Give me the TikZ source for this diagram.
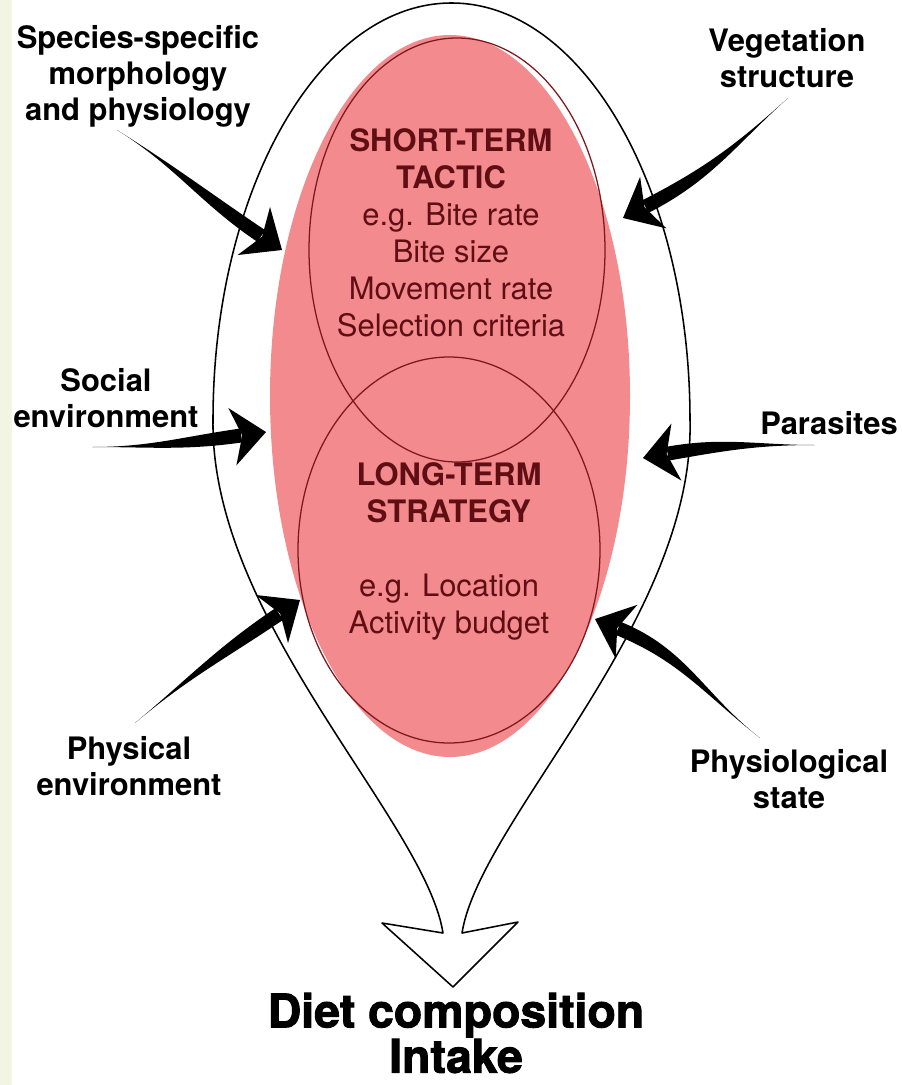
\documentclass[tikz,border=0pt]{standalone}
\usepackage{fontspec}
\setmainfont{TeX Gyre Heros}
\newfontfamily\heavyfont{TeX Gyre Heros}[BoldFeatures={FakeBold=2}]
\usetikzlibrary{calc}
\definecolor{tacticred}{RGB}{242,138,142}
\definecolor{innerline}{RGB}{125,25,30}
\definecolor{innertext}{RGB}{95,15,20}
\definecolor{edgestrip}{RGB}{243,245,228}

\begin{document}
\begin{tikzpicture}
    [   x = 0.25mm
    ,   y = 0.25mm
    ,   factor/.style =
        {   align = center
        ,   inner sep = 0mm
        ,   font = \fontsize{22}{25.6}\selectfont\bfseries
        }
    ,   inner/.style =
        {   align = center
        ,   inner sep = 0mm
        ,   text = innertext
        ,   font = \fontsize{22}{26.3}\selectfont
        }
    ,   wall/.style = {draw=innerline, line width=0.9pt}
    ]
    \useasboundingbox (0,0) rectangle (901,-1085);
    \fill[edgestrip] (0,0) rectangle (12,-1085);

    % funnel outline ending in the open arrow
    \draw[line width=1.1pt, line join=round]
        (443,-933) -- (382,-923) -- (453,-987) -- (518,-922) -- (462,-933)
        .. controls (480,-820) and (695,-620) .. (690,-420)
        arc[start angle=0, end angle=180, x radius=238.5, y radius=417]
        .. controls (210,-620) and (425,-820) .. (443,-933) -- cycle;

    \fill[tacticred] (450,-396) ellipse[x radius=180, y radius=361];
    \draw[wall] (457,-250) ellipse[x radius=148, y radius=212];
    \draw[wall] (449,-550) ellipse[x radius=151, y radius=193];

    \node[inner] (tactic) at (451,-233)
        {\textbf{SHORT-TERM}\\\textbf{TACTIC}\\e.g. Bite rate\\Bite size\\Movement rate\\Selection criteria};
    \node[inner] (strategy) at (449,-551)
        {\textbf{LONG-TERM}\\\textbf{STRATEGY}\\[26.3pt]e.g. Location\\Activity budget};

    \node[factor] (spec)   at (138,-76)  {Species-specific\\morphology\\and physiology};
    \node[factor] (veg)    at (787,-58)  {Vegetation\\structure};
    \node[factor] (social) at (106,-398) {Social\\environment};
    \node[factor] (para)   at (829,-423) {Parasites};
    \node[factor] (phys)   at (129,-766) {Physical\\environment};
    \node[factor] (physio) at (789,-779) {Physiological\\state};
    \node[align=center, inner sep=0mm, font=\fontsize{33}{30}\selectfont\heavyfont\bfseries]
        (diet) at (456,-1033) {Diet composition\\Intake};

    % tails and tips of the pushing arrows
    \coordinate (specT)   at (117,-130);  \coordinate (specH)   at (282,-250);
    \coordinate (vegT)    at (788,-98);   \coordinate (vegH)    at (623,-218);
    \coordinate (socialT) at (92,-447);   \coordinate (socialH) at (266,-432);
    \coordinate (paraT)   at (815,-445);  \coordinate (paraH)   at (643,-458);
    \coordinate (physT)   at (135,-723);  \coordinate (physH)   at (300,-600);
    \coordinate (physioT) at (760,-738);  \coordinate (physioH) at (595,-619);

    \foreach \from/\head/\o/\i in
        {specT/specH/-32/146, vegT/vegH/222/27, socialT/socialH/0/188,
         paraT/paraH/180/10, physT/physH/40/214, physioT/physioH/142/-22}
    {   \fill (\from) to[out=\o,in=\i] ($(\head)+(\i:25)+({\i+90}:7)$)
            -- ($(\head)+(\i:25)+({\i-90}:7)$) to[out=\i,in=\o] (\from) -- cycle;
        \fill (\head) -- ($(\head)+(\i:34)+({\i+90}:29)$) -- ($(\head)+(\i:24)$)
            -- ($(\head)+(\i:34)+({\i-90}:29)$) -- cycle;
    }
\end{tikzpicture}
\end{document}
